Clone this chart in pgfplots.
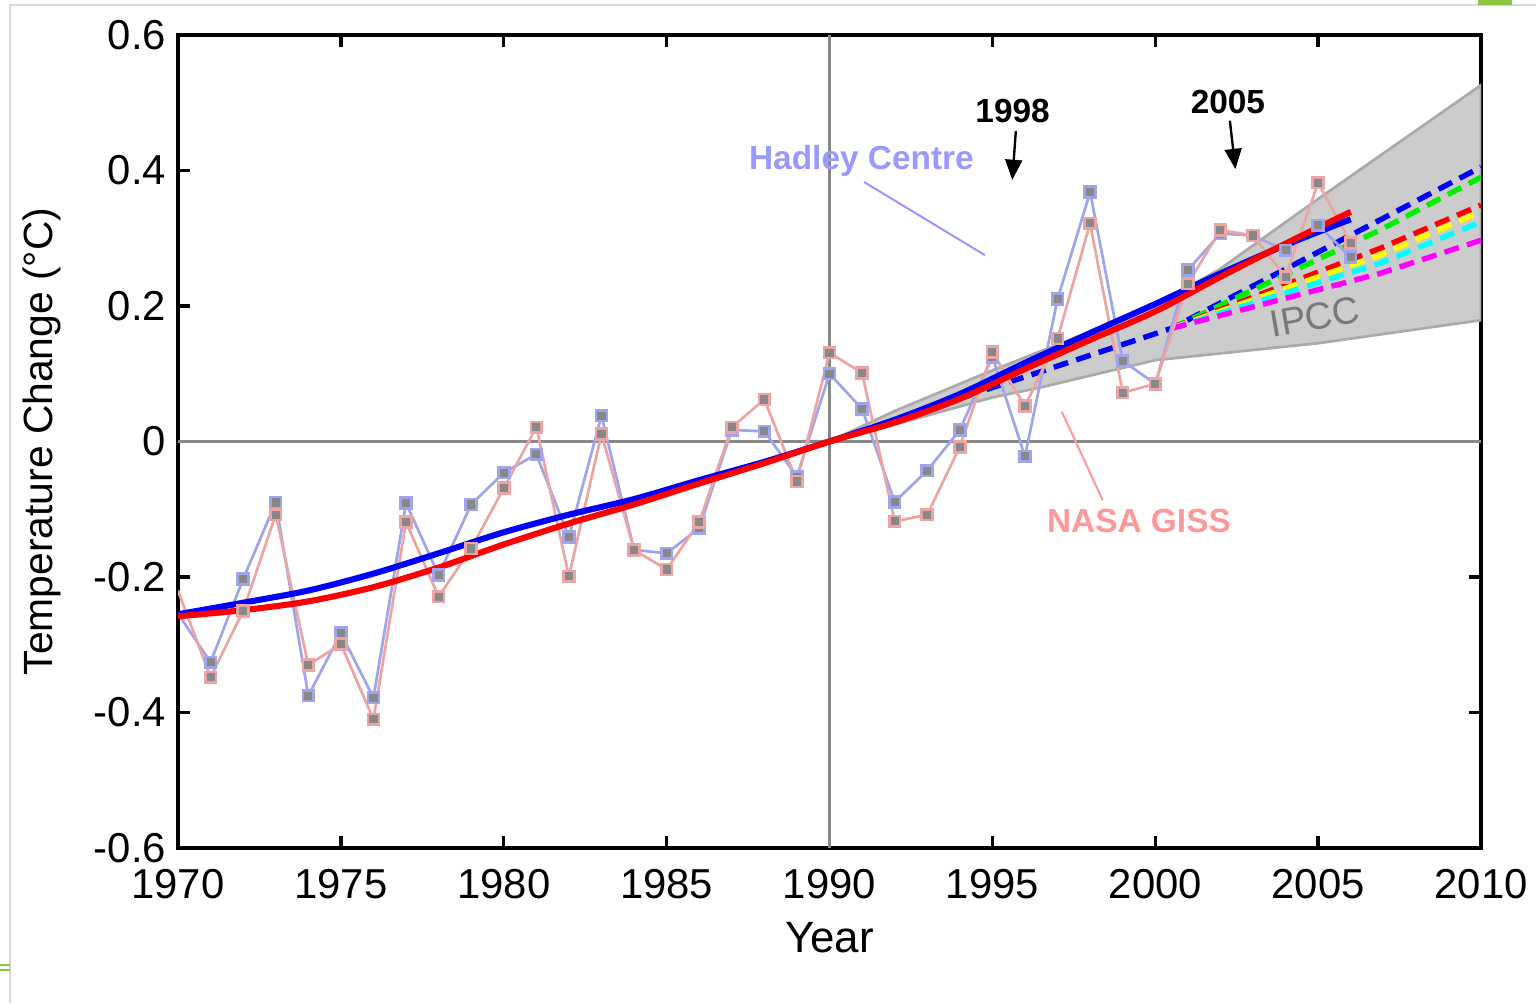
\documentclass[border=0pt]{standalone}
\usepackage{fontspec}
\setmainfont{Liberation Sans}
\usepackage{pgfplots}
\pgfplotsset{compat=1.18}
\usetikzlibrary{arrows.meta}
\definecolor{hadthin}{RGB}{160,165,235}
\definecolor{gissthin}{RGB}{235,165,165}
\definecolor{hadtext}{RGB}{153,153,255}
\definecolor{gisstext}{RGB}{255,153,153}
\definecolor{mkfill}{RGB}{136,136,136}
\definecolor{bandfill}{RGB}{204,204,204}
\definecolor{bandedge}{RGB}{170,170,170}
\definecolor{zeroline}{RGB}{136,136,136}
\definecolor{ipcctext}{RGB}{120,120,120}
\definecolor{frame}{RGB}{215,215,215}
\definecolor{deco}{RGB}{141,198,63}
\definecolor{sblue}{RGB}{0,0,255}
\definecolor{sred}{RGB}{255,0,0}
\definecolor{sgreen}{RGB}{0,240,0}
\definecolor{syellow}{RGB}{255,255,0}
\definecolor{scyan}{RGB}{0,255,255}
\definecolor{smagenta}{RGB}{255,0,255}
\begin{document}
\begin{tikzpicture}
\path[use as bounding box] (0,0) rectangle (16cm,10.448cm);
% slide frame decoration
\draw[frame, line width=0.6pt] (0.104cm,0) -- (0.104cm,10.396cm) -- (16cm,10.396cm);
\fill[deco] (15.396cm,10.396cm) rectangle (15.75cm,10.448cm);
\draw[deco, line width=0.5pt] (0,0.396cm) -- (0.104cm,0.396cm) (0,0.344cm) -- (0.104cm,0.344cm);
\begin{axis}[
  at={(1.8542cm,1.6146cm)}, anchor=south west,
  scale only axis, width=13.573cm, height=8.469cm,
  xmin=1970, xmax=2010, ymin=-0.6, ymax=0.6,
  xtick={1970,1975,1980,1985,1990,1995,2000,2005,2010},
  xticklabels={1970,1975,1980,1985,1990,1995,2000,2005,2010},
  ytick={-0.6,-0.4,-0.2,0,0.2,0.4,0.6},
  yticklabels={-0.6,-0.4,-0.2,0,0.2,0.4,0.6},
  tick align=inside,
  major tick length=0.125cm,
  every tick/.style={black, line width=1pt},
  axis line style={line width=1pt},
  ticklabel style={font=\fontsize{12.4}{14}\selectfont},
  xticklabel style={yshift=-0.1cm},
  xlabel={Year}, ylabel={Temperature Change (°C)},
  xlabel style={font=\fontsize{13}{15}\selectfont, at={(axis description cs:0.5,-0.1107)}, anchor=center},
  ylabel style={font=\fontsize{12.1}{14}\selectfont, at={(axis description cs:-0.1044,0.5)}, anchor=center, rotate=0},
  clip=true,
]
% IPCC band
\addplot[fill=bandfill, draw=bandedge, line width=0.8pt] coordinates {
 (1990,0) (1992,0.045) (1995,0.105) (2000,0.2) (2002,0.255) (2005,0.358) (2010,0.526)
 (2010,0.179) (2005,0.145) (2000,0.12) (1996.5,0.08) (1995,0.065) (1992,0.025) (1990,0)
} -- cycle;
% zero lines
\addplot[zeroline, line width=1.1pt] coordinates {(1970,0) (2010,0)};
\addplot[zeroline, line width=1.1pt] coordinates {(1990,-0.6) (1990,0.6)};
% IPCC scenario dashed lines
\addplot[sblue, line width=1.6pt, dash pattern=on 4.5pt off 2.5pt] coordinates {(1990,0) (2000.5,0.167) (2006.9,0.327) (2010,0.405)};
\addplot[sgreen, line width=1.6pt, dash pattern=on 4.5pt off 2.5pt] coordinates {(2000.5,0.167) (2006.9,0.312) (2010,0.390)};
\addplot[sred, line width=1.6pt, dash pattern=on 4.5pt off 2.5pt] coordinates {(2000.5,0.167) (2006.9,0.285) (2010,0.349)};
\addplot[syellow, line width=1.6pt, dash pattern=on 4.5pt off 2.5pt] coordinates {(2000.5,0.167) (2006.9,0.275) (2010,0.339)};
\addplot[scyan, line width=1.6pt, dash pattern=on 4.5pt off 2.5pt] coordinates {(2000.5,0.167) (2006.9,0.263) (2010,0.324)};
\addplot[smagenta, line width=1.6pt, dash pattern=on 4.5pt off 2.5pt] coordinates {(2000.5,0.167) (2006.9,0.248) (2010,0.297)};
% Hadley Centre annual values
\addplot[hadthin, line width=0.8pt, mark=square*, mark size=1.6pt, mark phase=2, mark repeat=1,
  mark options={fill=mkfill, draw=hadthin, line width=0.8pt}] coordinates {
 (1970,-0.254) (1971,-0.326) (1972,-0.203) (1973,-0.090) (1974,-0.375) (1975,-0.283)
 (1976,-0.378) (1977,-0.091) (1978,-0.197) (1979,-0.093) (1980,-0.046) (1981,-0.019)
 (1982,-0.141) (1983,0.038) (1984,-0.160) (1985,-0.165) (1986,-0.128) (1987,0.017)
 (1988,0.015) (1989,-0.052) (1990,0.100) (1991,0.048) (1992,-0.089) (1993,-0.043)
 (1994,0.017) (1995,0.125) (1996,-0.022) (1997,0.210) (1998,0.368) (1999,0.119)
 (2000,0.085) (2001,0.253) (2002,0.307) (2003,0.304) (2004,0.282) (2005,0.319) (2006,0.272)
};
% NASA GISS annual values
\addplot[gissthin, line width=0.8pt, mark=square*, mark size=1.6pt, mark phase=2, mark repeat=1,
  mark options={fill=mkfill, draw=gissthin, line width=0.8pt}] coordinates {
 (1970,-0.220) (1971,-0.348) (1972,-0.250) (1973,-0.108) (1974,-0.330) (1975,-0.299)
 (1976,-0.410) (1977,-0.119) (1978,-0.229) (1979,-0.158) (1980,-0.069) (1981,0.021)
 (1982,-0.199) (1983,0.011) (1984,-0.160) (1985,-0.189) (1986,-0.119) (1987,0.021)
 (1988,0.062) (1989,-0.059) (1990,0.131) (1991,0.101) (1992,-0.118) (1993,-0.108)
 (1994,-0.008) (1995,0.132) (1996,0.052) (1997,0.152) (1998,0.322) (1999,0.072)
 (2000,0.085) (2001,0.233) (2002,0.312) (2003,0.304) (2004,0.243) (2005,0.382) (2006,0.293)
};
% smoothed trends
\addplot[sblue, line width=1.8pt, smooth] coordinates {
 (1970,-0.255) (1972,-0.238) (1974,-0.220) (1976,-0.195) (1978,-0.165) (1980,-0.134)
 (1982,-0.108) (1984,-0.085) (1986,-0.057) (1988,-0.030) (1990,0) (1992,0.032)
 (1994,0.070) (1996,0.116) (1998,0.160) (2000,0.203) (2002,0.248) (2004,0.290) (2006,0.328)
};
\addplot[sred, line width=1.8pt, smooth] coordinates {
 (1970,-0.258) (1972,-0.249) (1974,-0.236) (1976,-0.215) (1978,-0.186) (1980,-0.152)
 (1982,-0.121) (1984,-0.093) (1986,-0.062) (1988,-0.032) (1990,0) (1992,0.028)
 (1994,0.063) (1996,0.107) (1998,0.150) (2000,0.192) (2002,0.243) (2004,0.292) (2006,0.339)
};
% annotations
\node[text=hadtext, font=\fontsize{9.9}{12}\selectfont\bfseries] at (axis cs:1990.98,0.414) {Hadley Centre};
\draw[hadtext, line width=0.6pt] (axis cs:1991.06,0.383) -- (axis cs:1994.77,0.275);
\node[text=gisstext, font=\fontsize{9.9}{12}\selectfont\bfseries] at (axis cs:1999.50,-0.118) {NASA GISS};
\draw[gisstext, line width=0.6pt] (axis cs:1997.13,0.044) -- (axis cs:1998.39,-0.087);
\node[font=\fontsize{9.9}{12}\selectfont\bfseries] at (axis cs:1995.62,0.488) {1998};
\draw[line width=0.7pt, -{Triangle[length=6pt,width=5pt]}] (axis cs:1995.72,0.458) -- (axis cs:1995.61,0.386);
\node[font=\fontsize{9.9}{12}\selectfont\bfseries] at (axis cs:2002.23,0.501) {2005};
\draw[line width=0.7pt, -{Triangle[length=6pt,width=5pt]}] (axis cs:2002.29,0.4735) -- (axis cs:2002.46,0.402);
\node[text=ipcctext, rotate=10, font=\fontsize{11.2}{13}\selectfont] at (axis cs:2004.90,0.184) {IPCC};
\end{axis}
\end{tikzpicture}
\end{document}
